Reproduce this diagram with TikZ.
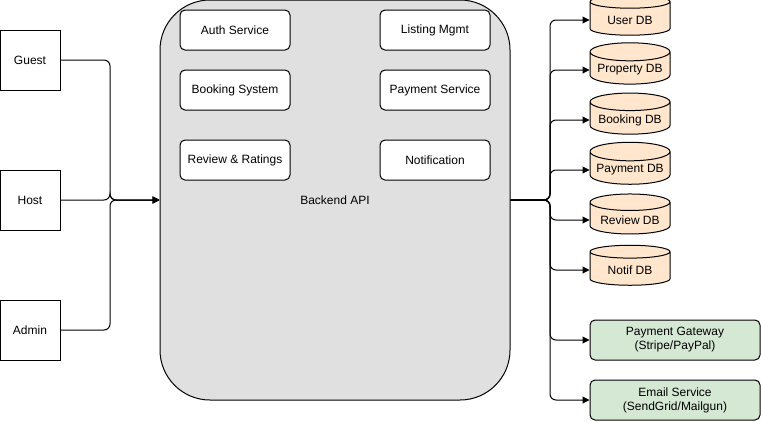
\documentclass[tikz,border=0pt]{standalone}
\usepackage{fontspec}
\setmainfont{Liberation Sans}
\usetikzlibrary{shapes.geometric,arrows.meta}
\definecolor{apigray}{HTML}{E0E0E0}
\definecolor{dborange}{HTML}{FFE6CC}
\definecolor{extgreen}{HTML}{D5E8D4}

\begin{document}
\begin{tikzpicture}[x=1pt, y=-1pt, line width=1pt,
    every node/.style = {font=\fontsize{12}{14}\selectfont, align=center},
    user/.style = {draw, fill=white, minimum width=60pt, minimum height=60pt},
    api/.style = {draw, fill=apigray, rounded corners=50pt,
      minimum width=350pt, minimum height=400pt},
    svc/.style = {draw, fill=white, rounded corners=5pt,
      minimum width=110pt, minimum height=40pt},
    db/.style = {draw, fill=dborange, cylinder, shape border rotate=90,
      aspect=0.25, minimum width=80pt, minimum height=40pt},
    ext/.style = {draw, fill=extgreen, rounded corners=5pt,
      minimum width=170pt, minimum height=40pt},
    flow/.style = {-{Triangle[length=7pt,width=7pt]}, rounded corners=6pt}]
    \useasboundingbox (0,0) rectangle (761,421);
    % users
    \node[user] (guest) at (30,60) {Guest};
    \node[user] (host) at (30,200) {Host};
    \node[user] (admin) at (30,330) {Admin};
    % backend and its services
    \node[api] (api) at (335,200) {Backend API};
    \node[svc] (auth) at (235,30) {Auth Service};
    \node[svc] (listing) at (435,30) {Listing Mgmt};
    \node[svc] (booking) at (235,90) {Booking System};
    \node[svc] (payment) at (435,90) {Payment Service};
    \node[svc] (review) at (235,160) {Review \& Ratings};
    \node[svc] (notif) at (435,160) {Notification};
    % databases
    \node[db] (userdb) at (630,20) {User DB};
    \node[db] (propdb) at (630,70) {Property DB};
    \node[db] (bookdb) at (630,120) {Booking DB};
    \node[db] (paydb) at (630,170) {Payment DB};
    \node[db] (revdb) at (630,220) {Review DB};
    \node[db] (notifdb) at (630,270) {Notif DB};
    % external services
    \node[ext] (gateway) at (675,340) {Payment Gateway\\(Stripe/PayPal)};
    \node[ext] (email) at (675,400) {Email Service\\(SendGrid/Mailgun)};
    % connectors
    \coordinate (merge) at (110,200);
    \coordinate (split) at (550,200);
    \foreach \u in {guest,host,admin}
      \draw[flow] (\u.east) -| (merge) -- (api.west);
    \foreach \d in {userdb,propdb,bookdb,paydb,revdb,notifdb,gateway,email}
      \draw[flow] (api.east) -- (split) |- (\d.west);
\end{tikzpicture}
\end{document}
